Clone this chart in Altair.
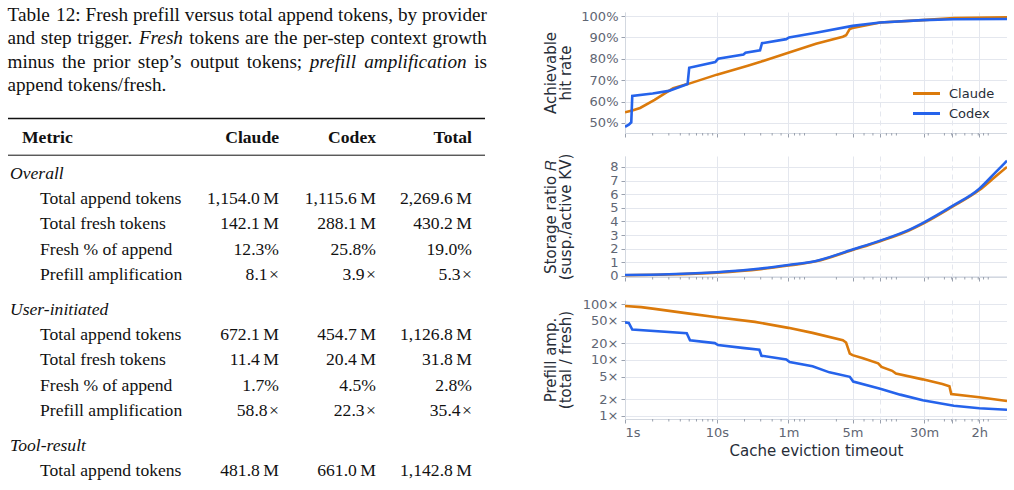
import altair as alt
import pandas as pd

# ---------------- data: caption + table ----------------
# words wrapped in *...* are italic
CAPTION_LINES = [
    "Table 12: Fresh prefill versus total append tokens, by provider",
    "and step trigger. *Fresh* tokens are the per-step context growth",
    "minus the prior step\u2019s output tokens; *prefill* *amplification* is",
    "append tokens/fresh.",
]
CAPTION_JUSTIFIED = [True, True, True, False]
HEADER = ["Metric", "Claude", "Codex", "Total"]
GROUPS = ["Overall", "User-initiated", "Tool-result"]
ROW_LABELS = [
    ["Total append tokens", "Total fresh tokens", "Fresh % of append", "Prefill amplification"],
    ["Total append tokens", "Total fresh tokens", "Fresh % of append", "Prefill amplification"],
    ["Total append tokens"],
]
CLAUDE_COL = [["1,154.0\u2009M", "142.1\u2009M", "12.3%", "8.1\u200a\u00d7"],
              ["672.1\u2009M", "11.4\u2009M", "1.7%", "58.8\u200a\u00d7"],
              ["481.8\u2009M"]]
CODEX_COL = [["1,115.6\u2009M", "288.1\u2009M", "25.8%", "3.9\u200a\u00d7"],
             ["454.7\u2009M", "20.4\u2009M", "4.5%", "22.3\u200a\u00d7"],
             ["661.0\u2009M"]]
TOTAL_COL = [["2,269.6\u2009M", "430.2\u2009M", "19.0%", "5.3\u200a\u00d7"],
             ["1,126.8\u2009M", "31.8\u2009M", "2.8%", "35.4\u200a\u00d7"],
             ["1,142.8\u2009M"]]

# ---------------- data: curves (timeout in seconds) ----------------
HIT_T_CLAUDE = [1, 1.2, 1.46, 2.1, 3.0, 3.35, 5.0, 10, 21.7, 30, 60, 120, 235, 255, 280, 300, 600, 1740, 3800, 14400]
HIT_CLAUDE = [55.0, 55.8, 57.0, 60.8, 65.0, 66.3, 68.4, 72.6, 76.8, 78.6, 82.8, 87.0, 90.3, 91.0, 94.0, 94.4, 97.0, 98.1, 99.1, 99.4]
HIT_T_CODEX = [1, 1.1, 1.17, 1.2, 2, 3, 4.8, 5.0, 9.6, 10.3, 19.5, 20.5, 29.5, 31, 57, 61, 120, 300, 600, 1740, 3800, 14400]
HIT_CODEX = [48.2, 49.2, 50.3, 62.6, 63.8, 65.0, 68.2, 75.8, 78.5, 80.0, 82.0, 82.8, 84.0, 87.3, 89.2, 90.0, 92.2, 95.4, 97.0, 98.1, 98.5, 98.6]

STOR_T = [1, 3, 10, 30, 60, 120, 300, 600, 1200, 1800, 3600, 7200, 10800, 14400]
STOR_CLAUDE = [0.05, 0.1, 0.24, 0.5, 0.76, 1.07, 1.9, 2.55, 3.3, 3.88, 5.05, 6.3, 7.3, 8.0]
STOR_CODEX = [0.07, 0.12, 0.27, 0.54, 0.8, 1.1, 1.94, 2.59, 3.34, 3.93, 5.1, 6.4, 7.6, 8.45]

AMP_T_CLAUDE = [1, 1.5, 2.1, 4.8, 10, 26, 60, 110, 235, 255, 265, 280, 300, 390, 570, 620, 810, 890, 1740, 2850, 3400, 3560, 7200, 14400]
AMP_CLAUDE = [92, 88, 82, 68, 58, 48, 37.5, 30.5, 22.5, 20.5, 17, 13.0, 12.2, 10.7, 8.7, 7.5, 6.4, 5.7, 4.5, 3.7, 3.4, 2.45, 2.15, 1.85]
AMP_T_CODEX = [1, 1.1, 1.2, 4.7, 5.1, 9.5, 10.3, 20, 29, 30.6, 57, 62, 110, 168, 280, 305, 600, 990, 1740, 3800, 7200, 14400]
AMP_CODEX = [47, 46, 35, 30, 22.5, 20, 18.5, 16.3, 15.2, 11.9, 10.2, 9.2, 7.7, 6.0, 5.0, 4.1, 3.05, 2.4, 1.9, 1.52, 1.37, 1.29]

PROVIDERS = ["Claude", "Codex"]
X_TICKS = [1, 10, 60, 300, 600, 1800, 3600, 7200]
X_TICK_LABELS = ["1s", "10s", "1m", "5m", "", "30m", "", "2h"]
DASHED_TICKS = [600, 3600]
HIT_TICKS = [50, 60, 70, 80, 90, 100]
STOR_TICKS = [0, 1, 2, 3, 4, 5, 6, 7, 8]
AMP_TICKS = [1, 2, 5, 10, 20, 50, 100]

# ---------------- style ----------------
ORANGE = "#DB7A0B"
BLUE = "#2563EB"
GRID = "#E4E7EE"
DOMAIN = "#D3D8E0"
TICKC = "#9AA1AE"
LABELC = "#5F6673"
TITLEC = "#272D38"
SANS = "DejaVu Sans"
SERIF = "Liberation Serif"
INK = "#111111"

PAGE_TOP = 12
W_L, H_L = 500, 478
PW = 382
H1, H2, H3 = 121, 121, 119

# ---------------- left panel layout ----------------
CAP_Y = [15, 38.3, 61.7, 85]
CAP_X0, CAP_X1 = 7.5, 487
CAP_SIZE = 19.2
TAB_SIZE = 17.6

HEAD_X = [22, 279, 376, 472]
HEAD_Y = 138
GROUP_X, ROW_X = 10, 40
VAL_X = [279, 376, 472]
GROUP_Y0, GROUP_STEP, ROW_STEP = 174, 136, 25.2
RULES = [(118.5, 1.6), (155.2, 1.0)]
RULE_X = (8, 485)

# approximate Times advance widths (1/1000 em) used to justify caption lines
_ROMAN = dict(zip("abcdefghijklmnopqrstuvwxyz",
                  [444, 500, 444, 500, 444, 333, 500, 500, 278, 278, 500, 278, 778, 500, 500, 500, 500, 333, 389, 278, 500, 500, 722, 500, 500, 444]))
_ROMAN.update(dict(zip("ABCDEFGHIJKLMNOPQRSTUVWXYZ",
                       [722, 667, 667, 722, 611, 556, 722, 722, 333, 389, 722, 611, 889, 722, 722, 556, 722, 667, 556, 611, 722, 722, 944, 722, 722, 611])))
_ROMAN.update({c: 500 for c in "0123456789"})
_ROMAN.update({" ": 250, ",": 250, ".": 250, ":": 278, ";": 278, "-": 333, "/": 278, "\u2019": 333, "%": 833})
_ITAL = dict(_ROMAN)
_ITAL.update(dict(zip("abcdefghijklmnopqrstuvwxyz",
                      [500, 500, 444, 500, 444, 278, 500, 500, 278, 278, 444, 278, 722, 500, 500, 500, 500, 389, 389, 278, 500, 444, 667, 444, 444, 389])))
_ITAL["F"] = 611


def word_width(w, ital):
    tab = _ITAL if ital else _ROMAN
    return sum(tab.get(c, 500) for c in w) * CAP_SIZE / 1000.0


cap_rows = []
for li, (line, just) in enumerate(zip(CAPTION_LINES, CAPTION_JUSTIFIED)):
    words = []
    for w in line.split(" "):
        ital = w.startswith("*") and w.endswith("*")
        words.append((w.strip("*"), ital))
    widths = [word_width(w, it) for w, it in words]
    if just and len(words) > 1:
        gap = (CAP_X1 - CAP_X0 - sum(widths)) / (len(words) - 1)
    else:
        gap = 250 * CAP_SIZE / 1000.0
    x = CAP_X0
    for (w, it), wd in zip(words, widths):
        cap_rows.append({"t": w, "x": x, "y": CAP_Y[li], "ital": it})
        x += wd + gap
cap = pd.DataFrame(cap_rows)

xs = alt.Scale(domain=[0, W_L], nice=False, zero=False)
ys = alt.Scale(domain=[PAGE_TOP + H_L, PAGE_TOP], nice=False, zero=False)


def txt(df, align, style="normal", weight="normal", size=TAB_SIZE):
    return alt.Chart(df).mark_text(
        align=align, baseline="middle", font=SERIF, fontSize=size,
        fontStyle=style, fontWeight=weight, color=INK,
    ).encode(
        x=alt.X("x:Q", scale=xs, axis=None),
        y=alt.Y("y:Q", scale=ys, axis=None),
        text="t:N",
    )


left_layers = [
    txt(cap[~cap["ital"]][["t", "x", "y"]], "left", size=CAP_SIZE),
    txt(cap[cap["ital"]][["t", "x", "y"]], "left", "italic", size=CAP_SIZE),
    txt(pd.DataFrame({"t": HEADER[:1], "x": HEAD_X[:1], "y": [HEAD_Y]}), "left", weight="bold"),
    txt(pd.DataFrame({"t": HEADER[1:], "x": HEAD_X[1:], "y": [HEAD_Y] * 3}), "right", weight="bold"),
]

g_rows, r_rows, v_rows = [], [], []
for g, name in enumerate(GROUPS):
    gy = GROUP_Y0 + g * GROUP_STEP
    g_rows.append({"t": name, "x": GROUP_X, "y": gy})
    for k, lab in enumerate(ROW_LABELS[g]):
        ry = gy + ROW_STEP * (k + 1)
        r_rows.append({"t": lab, "x": ROW_X, "y": ry})
        for col, vx in zip([CLAUDE_COL, CODEX_COL, TOTAL_COL], VAL_X):
            v_rows.append({"t": col[g][k], "x": vx, "y": ry})
left_layers.append(txt(pd.DataFrame(g_rows), "left", "italic"))
left_layers.append(txt(pd.DataFrame(r_rows), "left"))
left_layers.append(txt(pd.DataFrame(v_rows), "right"))

for ry, sw in RULES:
    left_layers.append(
        alt.Chart(pd.DataFrame({"x": [RULE_X[0]], "x2": [RULE_X[1]], "y": [ry]}))
        .mark_rule(color=INK, strokeWidth=sw)
        .encode(x=alt.X("x:Q", scale=xs, axis=None), x2="x2:Q", y=alt.Y("y:Q", scale=ys, axis=None))
    )

left = alt.layer(*left_layers).properties(width=W_L, height=H_L)

# ---------------- right panels ----------------
def long(tc, vc, tx, vx):
    rows = []
    for p, ts, vs in [("Claude", tc, vc), ("Codex", tx, vx)]:
        for i, (t, v) in enumerate(zip(ts, vs)):
            rows.append({"provider": p, "t": t, "v": v, "i": i})
    return pd.DataFrame(rows)


label_expr = " : ".join(f"datum.value == {v} ? '{l}'" for v, l in zip(X_TICKS, X_TICK_LABELS)) + " : ''"
dash_test = " || ".join(f"datum.value == {v}" for v in DASHED_TICKS)
xscale = alt.Scale(type="log", domain=[1, 14400], nice=False)
MINOR = [m * 10 ** k for k in range(0, 5) for m in range(2, 10) if m * 10 ** k <= 14400 and m * 10 ** k not in X_TICKS]
MINOR += [3600]


def x_axis(show):
    kw = dict(values=X_TICKS, labelExpr=label_expr, grid=True, gridColor=GRID, gridWidth=1,
              gridDash={"condition": {"test": dash_test, "value": [5, 4]}, "value": []},
              domainColor=DOMAIN, tickColor=TICKC, tickSize=4, labels=show,
              labelFont=SANS, labelFontSize=13, labelColor=LABELC, labelPadding=3)
    if show:
        kw.update(title="Cache eviction timeout", titleFont=SANS, titleFontSize=15,
                  titleFontWeight="normal", titleColor=TITLEC, titlePadding=4)
    else:
        kw.update(title="")
    return alt.Axis(**kw)


def panel(df, ydomain, ytype, yticks, ylabel_expr, title, H, legend, show_x, interp="linear"):
    xa = x_axis(show_x)
    yscale = alt.Scale(type=ytype, domain=ydomain, nice=False, zero=False)
    ya = alt.Axis(values=yticks, labelExpr=ylabel_expr, grid=True, gridColor=GRID, gridWidth=1,
                  domainColor=DOMAIN, tickColor=TICKC, tickSize=4, labelPadding=3,
                  labelFont=SANS, labelFontSize=13, labelColor=LABELC,
                  title=title, titleFont=SANS, titleFontSize=15, titleFontWeight="normal",
                  titleColor=TITLEC, titleLineHeight=15, titleX=-67, titleY=H / 2)
    cscale = alt.Scale(domain=PROVIDERS, range=[ORANGE, BLUE])
    if legend is not None:
        color = alt.Color("provider:N", scale=cscale, legend=legend)
    else:
        color = alt.Color("provider:N", scale=cscale, legend=None)
    lines = alt.Chart(df).mark_line(strokeWidth=2.6, clip=True, interpolate=interp).encode(
        x=alt.X("t:Q", scale=xscale, axis=xa),
        y=alt.Y("v:Q", scale=yscale, axis=ya),
        color=color,
        order="i:Q",
    )
    minor = alt.Chart(pd.DataFrame({"t": MINOR})).mark_rule(color=TICKC, strokeWidth=1).encode(
        x=alt.X("t:Q", scale=xscale, axis=xa),
        y=alt.value(H), y2=alt.value(H + 2.5),
    )
    return alt.layer(lines, minor).properties(width=PW, height=H)


legend1 = alt.Legend(title=None, orient="none", legendX=293, legendY=73,
                     symbolType="M-2,0H2", symbolSize=182, symbolStrokeWidth=3,
                     labelFont=SANS, labelFontSize=13, labelColor=TITLEC,
                     labelOffset=14, rowPadding=4, padding=0)

p1 = panel(long(HIT_T_CLAUDE, HIT_CLAUDE, HIT_T_CODEX, HIT_CODEX), [45.3, 101.9], "linear",
           HIT_TICKS, "datum.value + '%'", ["Achievable", "hit rate"], H1, legend1, False)
p2 = panel(long(STOR_T, STOR_CLAUDE, STOR_T, STOR_CODEX), [-0.08, 8.8], "linear",
           STOR_TICKS, "datum.value + ''", ["Storage ratio \U0001D445", "(susp./active KV)"], H2, None, False,
           interp="monotone")
p3 = panel(long(AMP_T_CLAUDE, AMP_CLAUDE, AMP_T_CODEX, AMP_CODEX), [0.88, 118], "log",
           AMP_TICKS, "datum.value + '\u00d7'", ["Prefill amp.", "(total / fresh)"], H3, None, True)

right = alt.vconcat(p1, p2, p3, spacing=23, bounds="flush").resolve_legend(color="independent")

chart = alt.hconcat(left, right, spacing=125, bounds="flush").properties(
    padding={"left": 0, "top": 6, "right": 0, "bottom": 0}
).configure(background="white", font=SANS).configure_view(stroke="transparent", strokeWidth=0)

chart.save("out.html", embed_options={"renderer": "svg", "actions": False})
